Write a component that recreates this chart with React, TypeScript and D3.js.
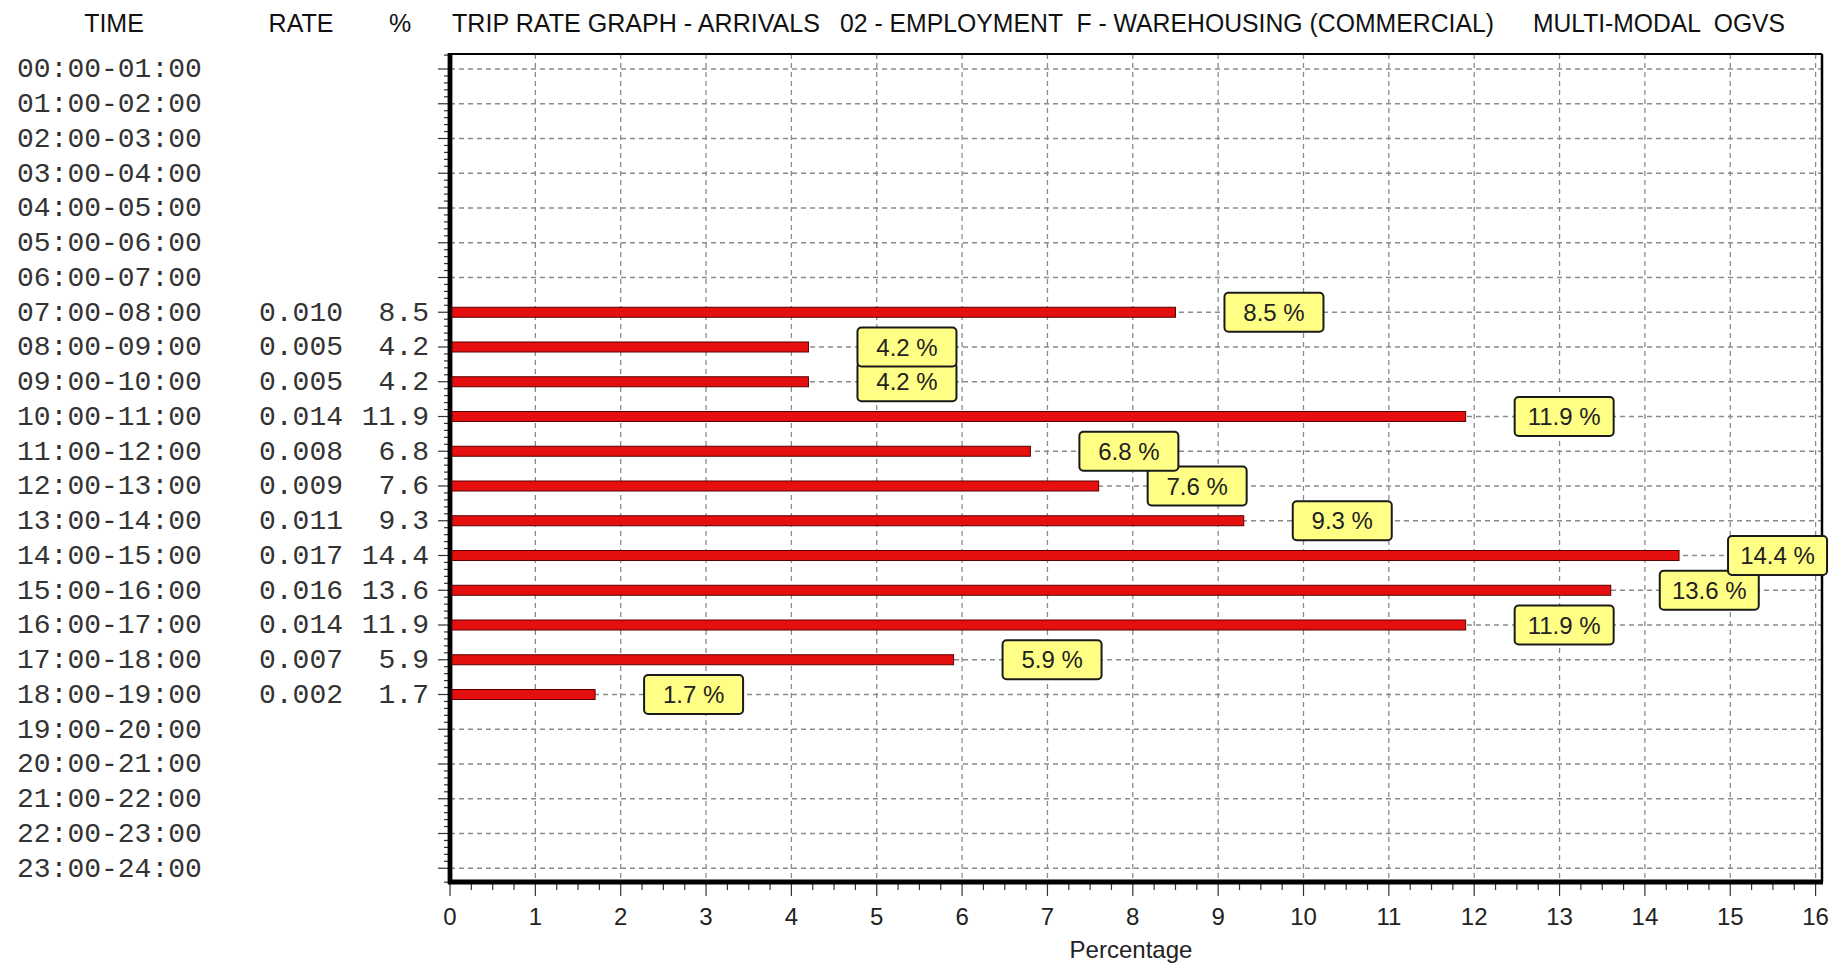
import React from "react";
import * as d3 from "d3";

const times = [
  "00:00-01:00", "01:00-02:00", "02:00-03:00", "03:00-04:00", "04:00-05:00", "05:00-06:00",
  "06:00-07:00", "07:00-08:00", "08:00-09:00", "09:00-10:00", "10:00-11:00", "11:00-12:00",
  "12:00-13:00", "13:00-14:00", "14:00-15:00", "15:00-16:00", "16:00-17:00", "17:00-18:00",
  "18:00-19:00", "19:00-20:00", "20:00-21:00", "21:00-22:00", "22:00-23:00", "23:00-24:00",
];
const rates: (number | null)[] = [
  null, null, null, null, null, null, null,
  0.010, 0.005, 0.005, 0.014, 0.008, 0.009, 0.011, 0.017, 0.016, 0.014, 0.007, 0.002,
  null, null, null, null, null,
];
const percents: (number | null)[] = [
  null, null, null, null, null, null, null,
  8.5, 4.2, 4.2, 11.9, 6.8, 7.6, 9.3, 14.4, 13.6, 11.9, 5.9, 1.7,
  null, null, null, null, null,
];
const xTicks = d3.range(0, 17);
const titleParts = [
  { text: "TRIP RATE GRAPH - ARRIVALS", x0: 452, x1: 820 },
  { text: "02 - EMPLOYMENT  F - WAREHOUSING (COMMERCIAL)", x0: 840, x1: 1494 },
  { text: "MULTI-MODAL  OGVS", x0: 1533, x1: 1785 },
];

const W = 1845;
const H = 968;
const SANS = "'Liberation Sans', Arial, sans-serif";
const MONO = "'Liberation Mono', 'Courier New', monospace";

export default function App() {
  const x = d3.scaleLinear().domain([0, 16]).range([450, 1815.6]);
  const y = d3.scalePoint<string>().domain(times).range([69, 868.25]);
  const top = 54;
  const bottom = 882;
  const right = 1822;
  const step = y.step();

  const minorY: number[] = [];
  for (let i = 0; i < times.length - 1; i++) {
    for (let k = 1; k < 5; k++) minorY.push((y(times[i]) as number) + (step * k) / 5);
  }
  minorY.push((y(times[0]) as number) - step / 5 * 2);
  minorY.push((y(times[times.length - 1]) as number) + step / 5 * 2);

  const minorX: number[] = [];
  for (let i = 0; i < 16; i++) for (let k = 1; k < 4; k++) minorX.push(x(i + k / 4));

  const rows = times.map((t, i) => ({ t, i, rate: rates[i], pct: percents[i], cy: y(t) as number }));
  const barRows = rows.filter((r) => r.pct != null);

  return (
    <svg width={W} height={H} style={{ position: "absolute", left: 0, top: 0, background: "#fff" }}>
      <rect x={0} y={0} width={W} height={H} fill="#fff" />
      {/* header */}
      <g fontFamily={SANS} fontSize={25} fill="#111">
        <text x={114} y={32} textAnchor="middle">TIME</text>
        <text x={301} y={32} textAnchor="middle">RATE</text>
        <text x={400} y={32} textAnchor="middle">%</text>
        {titleParts.map((p) => (
          <text key={p.text} x={p.x0} y={32} textLength={p.x1 - p.x0} lengthAdjust="spacingAndGlyphs" style={{ whiteSpace: "pre" }}>
            {p.text}
          </text>
        ))}
      </g>

      {/* grid */}
      <g stroke="#8a8a8a" strokeWidth={1.3} strokeDasharray="5,4">
        {rows.map((r) => (
          <line key={"h" + r.i} x1={450} x2={right} y1={r.cy} y2={r.cy} />
        ))}
        {xTicks.filter((t) => t > 0).map((t) => (
          <line key={"v" + t} x1={x(t)} x2={x(t)} y1={top} y2={bottom} />
        ))}
      </g>

      {/* ticks */}
      <g stroke="#333" strokeWidth={1.2}>
        {rows.map((r) => (
          <line key={"yt" + r.i} x1={438} x2={450} y1={r.cy} y2={r.cy} />
        ))}
        {minorY.map((v, i) => (
          <line key={"ym" + i} x1={444} x2={450} y1={v} y2={v} />
        ))}
        {xTicks.map((t) => (
          <line key={"xt" + t} x1={x(t)} x2={x(t)} y1={bottom} y2={896} />
        ))}
        {minorX.map((v, i) => (
          <line key={"xm" + i} x1={v} x2={v} y1={bottom} y2={890} />
        ))}
      </g>

      {/* frame */}
      <line x1={450} x2={right} y1={top} y2={top} stroke="#000" strokeWidth={2} />
      <line x1={right} x2={right} y1={top} y2={bottom} stroke="#000" strokeWidth={2.5} />
      <line x1={450} x2={450} y1={top - 1} y2={bottom + 2} stroke="#000" strokeWidth={4.8} />
      <line x1={448} x2={right + 1} y1={bottom} y2={bottom} stroke="#000" strokeWidth={4.8} />

      {/* bars */}
      <g>
        {barRows.map((r) => (
          <rect key={"b" + r.i} x={x(0) + 2} y={r.cy - 5} width={x(r.pct as number) - x(0) - 2} height={10}
            fill="#e60f0f" stroke="#5a0000" strokeWidth={1} />
        ))}
      </g>

      {/* value boxes: earlier rows drawn on top */}
      <g>
        {barRows.slice().reverse().map((r) => {
          const bx = x(r.pct as number) + 49;
          return (
            <g key={"l" + r.i}>
              <rect x={bx} y={r.cy - 19.5} width={99} height={39} rx={4} ry={4} fill="#ffff85" stroke="#1a1a1a" strokeWidth={2} />
              <text x={bx + 49.5} y={r.cy + 8.5} textAnchor="middle" fontFamily={SANS} fontSize={24} fill="#222">
                {(r.pct as number).toFixed(1) + " %"}
              </text>
            </g>
          );
        })}
      </g>

      {/* left text table */}
      <g fontFamily={MONO} fontSize={28} fill="#333">
        {rows.map((r) => (
          <g key={"t" + r.i}>
            <text x={17} y={r.cy + 8.3}>{r.t}</text>
            {r.rate != null && (
              <text x={343} y={r.cy + 8.3} textAnchor="end">{r.rate.toFixed(3)}</text>
            )}
            {r.pct != null && (
              <text x={429} y={r.cy + 8.3} textAnchor="end">{r.pct.toFixed(1)}</text>
            )}
          </g>
        ))}
      </g>

      {/* x tick labels */}
      <g fontFamily={SANS} fontSize={24} fill="#222" textAnchor="middle">
        {xTicks.map((t) => (
          <text key={"xl" + t} x={x(t)} y={925}>{t}</text>
        ))}
        <text x={1131} y={958}>Percentage</text>
      </g>
    </svg>
  );
}
